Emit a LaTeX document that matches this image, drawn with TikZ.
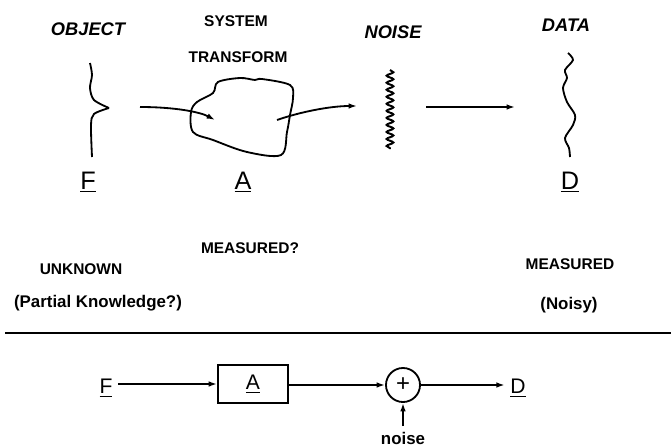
\documentclass[tikz,border=0pt]{standalone}
\usepackage{fontspec}
\setmainfont{Liberation Sans}
\usetikzlibrary{arrows.meta,decorations.pathmorphing}

\begin{document}
\begin{tikzpicture}[x=0.025cm,y=-0.025cm,line width=1.3pt,
	every node/.style={font=\bfseries\fontsize{11}{13}\selectfont},
	head/.style={font=\bfseries\itshape\fontsize{13}{15}\selectfont},
	sym/.style={font=\fontsize{18}{20}\selectfont},
	symsmall/.style={font=\fontsize{15}{17}\selectfont},
	note/.style={font=\bfseries\fontsize{12}{14}\selectfont},
	blockbox/.style={draw, minimum width=1.75cm, minimum height=0.95cm, inner sep=0pt, font=\fontsize{15}{17}\selectfont},
	sumnode/.style={draw, circle, minimum size=0.85cm, inner sep=0pt, font=\fontsize{17}{19}\selectfont},
	link/.style={-{Latex[length=6pt,width=4pt]}}]
	\useasboundingbox (0,0) rectangle (671,447);
	% headings
	\node[head] (obj) at (88,29) {OBJECT};
	\node (sys) at (236,21) {SYSTEM};
	\node (trans) at (238,57) {TRANSFORM};
	\node[head] (noi) at (393,32) {NOISE};
	\node[head] (dat) at (566,25) {DATA};
	% sketches
	\draw plot[smooth] coordinates {(90,63) (92,75) (90,88) (94,100) (109,108)};
	\draw plot[smooth] coordinates {(109,108) (94,114) (91,125) (92,157)};
	\draw plot[smooth cycle, tension=0.55] coordinates {(218,82) (240,78) (255,80) (262,79) (290,85) (293,98) (290,115) (287,132) (281,155) (247,152) (213,140) (193,132) (191,112) (197,102) (213,93)};
	\draw[line width=1.4pt, decorate, decoration={snake, amplitude=2.4pt, segment length=5pt}] (390,70) -- (390,149);
	\draw plot[smooth] coordinates {(568,53) (573,60) (565,70) (567,78) (563,88) (567,102) (575,115) (573,125) (565,138) (569,148) (570,157)};
	\coordinate (inS) at (140,107); \coordinate (inE) at (215,120);
	\coordinate (outS) at (277,120); \coordinate (outE) at (357,106);
	\coordinate (nS) at (426,107); \coordinate (nE) at (515,107);
	\draw[link] (inS) .. controls (175,107) and (200,112) .. (inE);
	\draw[link] (outS) .. controls (300,112) and (330,106) .. (outE);
	\draw[link] (nS) -- (nE);
	% labels
	\node[sym] (f) at (88,182) {\underline{F}};
	\node[sym] (a) at (243,182) {\underline{A}};
	\node[sym] (d) at (570,182) {\underline{D}};
	\node (meas1) at (250,248) {MEASURED?};
	\node (unk) at (81,269) {UNKNOWN};
	\node (meas2) at (570,264) {MEASURED};
	\node[note] (part) at (98,303) {(Partial Knowledge?)};
	\node[note] (noisy) at (569,305) {(Noisy)};
	\draw (5,333) -- (671,333);
	% block diagram
	\node[symsmall] (bf) at (106,388) {\underline{F}};
	\node[blockbox] (ba) at (253,384) {\underline{A}};
	\node[sumnode] (bs) at (403,385) {+};
	\node[symsmall] (bd) at (518,388) {\underline{D}};
	\node[note] (bn) at (403,438) {noise};
	\draw[link] (bf.east |- ba.west) -- (ba.west);
	\draw[link] (ba.east |- bs.west) -- (bs.west);
	\draw[link] (bs.east) -- (bd.west |- bs.east);
	\draw[link] (bn) -- (bs);
\end{tikzpicture}
\end{document}
